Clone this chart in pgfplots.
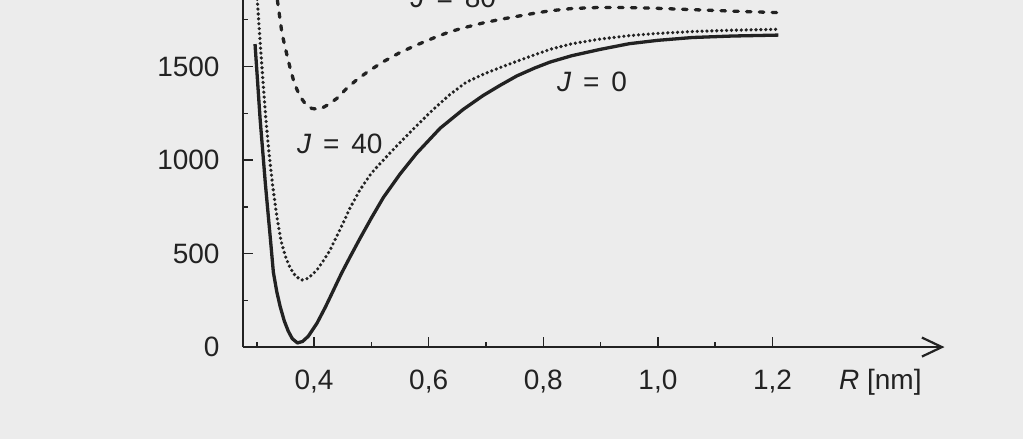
\documentclass[border=0pt]{standalone}
\usepackage{fontspec}
\setmainfont{Liberation Sans}
\usepackage{pgfplots}
\pgfplotsset{compat=1.18}
\usetikzlibrary{arrows.meta}
\pgfdeclarelayer{background}
\pgfsetlayers{background,main}
\definecolor{ink}{RGB}{34,34,34}
\definecolor{paper}{RGB}{236,236,236}
\pgfplotstableread{
R E
0.297 1620
0.301 1440
0.306 1214
0.315 875
0.324 572
0.329 400
0.335 295
0.341 215
0.348 140
0.355 85
0.362 45
0.371 22
0.380 30
0.390 58
0.405 127
0.420 215
0.434 305
0.448 395
0.463 483
0.480 580
0.500 690
0.521 800
0.550 925
0.579 1036
0.620 1170
0.660 1270
0.695 1345
0.725 1400
0.754 1450
0.785 1492
0.812 1524
0.850 1558
0.900 1592
0.950 1622
1.000 1640
1.060 1655
1.130 1663
1.210 1668
}\jzero
\pgfplotstableread{
R E
0.298 1990
0.301 1855
0.305 1670
0.309 1499
0.316 1214
0.322 1020
0.328 857
0.335 700
0.342 572
0.350 485
0.358 425
0.368 378
0.3785 358
0.390 368
0.405 412
0.418 470
0.428 519
0.440 595
0.452 672
0.463 745
0.480 840
0.500 930
0.521 1000
0.545 1078
0.573 1165
0.605 1262
0.637 1350
0.665 1415
0.695 1458
0.725 1495
0.754 1528
0.785 1563
0.812 1592
0.850 1622
0.900 1647
0.950 1665
1.000 1677
1.060 1687
1.130 1694
1.210 1699
}\jforty
\pgfplotstableread{
R E
0.330 1990
0.336 1855
0.344 1677
0.352 1570
0.358 1495
0.364 1428
0.370 1378
0.376 1338
0.386 1295
0.396 1276
0.405 1272
0.413 1276
0.425 1297
0.440 1330
0.456 1380
0.474 1428
0.495 1475
0.521 1526
0.550 1575
0.579 1615
0.608 1652
0.637 1686
0.665 1710
0.695 1733
0.725 1752
0.754 1768
0.785 1785
0.812 1798
0.850 1810
0.900 1816
0.950 1815
1.000 1811
1.060 1804
1.130 1796
1.210 1788
}\jeighty
\begin{document}
\begin{tikzpicture}[font=\fontsize{28}{34}\selectfont]
\begin{axis}[
  x=573pt, y=0.187pt,
  xmin=0.2756, xmax=1.5, ymin=0, ymax=1900,
  enlargelimits=false,
  axis lines=left,
  axis line style={ink, line width=2.2pt},
  x axis line style={-{Straight Barb[length=20pt,width=19pt]}},
  y axis line style={-},
  tick align=inside,
  major tick length=10pt, minor tick length=5pt,
  major tick style={ink, line width=1.5pt},
  minor tick style={ink, line width=1.5pt},
  xtick={0.4,0.6,0.8,1.0,1.2},
  xticklabels={{0,4},{0,6},{0,8},{1,0},{1,2}},
  minor xtick={0.3,0.5,0.7,0.9,1.1},
  ytick={0,500,1000,1500},
  yticklabels={0,500,1000,1500},
  minor ytick={250,750,1250,1750},
  xticklabel style={anchor=base, yshift=-42pt, inner sep=0pt, text=ink, font=\fontsize{28}{34}\selectfont},
  yticklabel style={anchor=east, xshift=-23pt, inner sep=0pt, text=ink, font=\fontsize{28}{34}\selectfont},
  clip mode=individual,
]
\addplot[ink, line width=3.3pt, line join=round] table[x=R, y=E] {\jzero};
\addplot[ink, line width=3.6pt, line cap=round, dash pattern=on 0pt off 4.9pt] table[x=R, y=E] {\jforty};
\addplot[ink, line width=3.3pt, line cap=round, dash pattern=on 4.5pt off 8.3pt] table[x=R, y=E] {\jeighty};
\node[anchor=base, inner sep=0pt, text=ink] at (axis cs:0.445,1037) {\textit{J}\hspace{0.42em}=\hspace{0.42em}40};
\node[anchor=base, inner sep=0pt, text=ink] at (axis cs:0.885,1364) {\textit{J}\hspace{0.42em}=\hspace{0.42em}0};
\node[anchor=base, inner sep=0pt, text=ink] at (axis cs:0.643,1813) {\textit{J}\hspace{0.42em}=\hspace{0.42em}80};
\node[anchor=base, inner sep=0pt, text=ink, yshift=-42pt] at (axis cs:1.388,0) {\textit{R} [nm]};
\coordinate (BL) at (axis cs:-0.148,-492);
\coordinate (TR) at (axis cs:1.637,1855.6);
\end{axis}
\begin{pgfonlayer}{background}
\fill[paper] (BL) rectangle (TR);
\end{pgfonlayer}
\pgfresetboundingbox
\useasboundingbox (BL) rectangle (TR);
\end{tikzpicture}
\end{document}
